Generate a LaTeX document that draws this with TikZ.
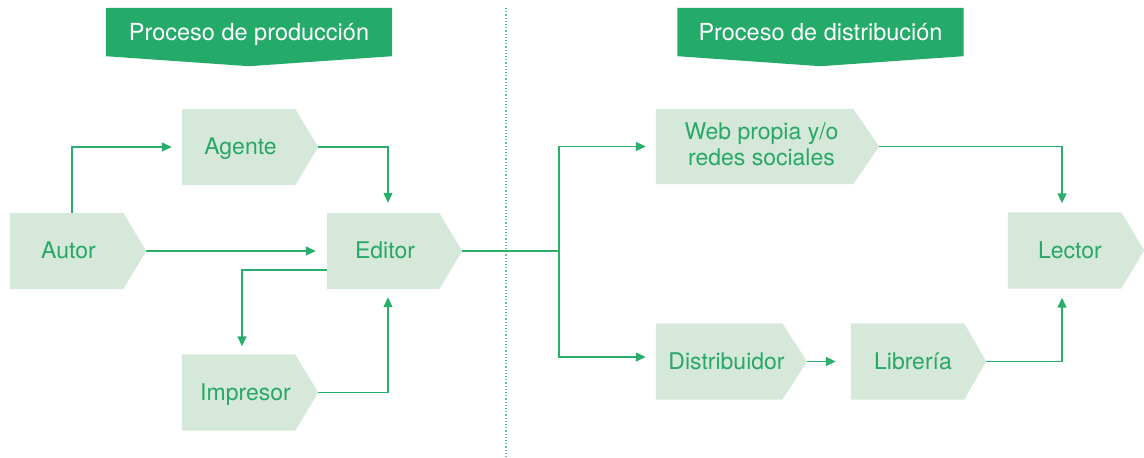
\documentclass[tikz,border=0pt]{standalone}
\usepackage{fontspec}
\setmainfont{TeX Gyre Heros}
\usetikzlibrary{calc,backgrounds,arrows.meta}
\definecolor{bannerc}{HTML}{24AB6A}
\definecolor{boxfill}{HTML}{D5E8D9}
\definecolor{boxtext}{HTML}{27A866}
\definecolor{linec}{HTML}{2AAE6C}
\definecolor{dotc}{HTML}{5EC192}
\tikzset{
  pbox/.style={rectangle, minimum height=76pt, inner sep=0pt, text=boxtext,
    font=\fontsize{23}{26}\selectfont, text height=19.5pt, text depth=4pt},
  banner/.style={rectangle, minimum height=48pt, minimum width=286pt, inner sep=0pt,
    text=white, font=\fontsize{23.5}{27}\selectfont, text height=21.4pt, text depth=4pt},
  wire/.style={draw=linec, line width=1.4pt},
  arr/.style={wire, -{Triangle[length=10pt,width=9pt]}},
  divider/.style={draw=dotc, line width=1.2pt, dash pattern=on 1.2pt off 2pt}
}
\newcommand{\pentfill}[2]{% node name, tip length
  \fill[boxfill] (#1.north west) -- (#1.north east) -- ($(#1.east)+(#2,0)$)
    -- (#1.south east) -- (#1.south west) -- cycle;
  \coordinate (#1-tip) at ($(#1.east)+(#2,0)$);}
\newcommand{\bannerfill}[1]{%
  \fill[bannerc] (#1.north west) -- (#1.north east) -- (#1.south east)
    -- ($(#1.south)+(0,10)$) -- (#1.south west) -- cycle;}
% text shifted right by half of #1, without widening the node
\newcommand{\tsh}[2]{\makebox[0pt]{\hspace*{#1}#2}}
\begin{document}
\begin{tikzpicture}[x=1pt,y=-1pt]
\useasboundingbox (0,0) rectangle (1144,458);

% banners
\node[banner] (bprod) at (249,32) {Proceso de producción};
\node[banner] (bdist) at (820.5,32) {Proceso de distribución};

% boxes
\node[pbox, minimum width=113pt] (autor)    at (66.5,251)   {\tsh{4pt}{Autor}};
\node[pbox, minimum width=113pt] (agente)   at (238.5,147)  {\tsh{4pt}{Agente}};
\node[pbox, minimum width=112pt] (editor)   at (383,251)    {\tsh{4pt}{Editor}};
\node[pbox, minimum width=113pt] (impresor) at (238.5,392.5){\tsh{14pt}{Impresor}};
\node[pbox, minimum width=197pt, minimum height=75pt, text height=6pt, text depth=21pt] (web) at (754.5,146.5)
  {\tsh{14pt}{\begin{tabular}[t]{@{}c@{}}Web propia y/o\\redes sociales\end{tabular}}};
\node[pbox, minimum width=126pt] (distrib)  at (719,361.5)  {\tsh{15pt}{Distribuidor}};
\node[pbox, minimum width=113pt] (libreria) at (907.5,361.5){\tsh{11pt}{Librería}};
\node[pbox, minimum width=113pt] (lector)   at (1064.5,250.5){\tsh{11pt}{Lector}};

\begin{scope}[on background layer]
  \bannerfill{bprod}
  \bannerfill{bdist}
  \pentfill{autor}{23}
  \pentfill{agente}{23}
  \pentfill{editor}{23}
  \pentfill{impresor}{23}
  \pentfill{web}{26}
  \pentfill{distrib}{25}
  \pentfill{libreria}{22}
  \pentfill{lector}{23}
\end{scope}

% divider
\draw[divider] (506,8) -- (506,457);

% production connectors
\draw[arr, shorten >=10pt] ($(autor.north)+(5.5,0)$) |- (agente.west);
\draw[arr, shorten >=11pt] (autor-tip) -- (editor.west);
\draw[arr, shorten >=10pt] (agente-tip) -| ($(editor.north)+(5,0)$);
\draw[arr, shorten >=8pt] ($(editor.west)+(0,19)$) -| ($(impresor.north)+(3.5,0)$);
\draw[arr, shorten >=8pt] (impresor-tip) -| ($(editor.south)+(5,0)$);

% distribution connectors
\coordinate (fork) at (559,251);
\draw[wire] (editor-tip) -- (fork);
\draw[arr, shorten >=10pt] (fork) |- (web.west);
\draw[arr, shorten >=10pt] (fork) |- ($(distrib.west)+(0,-4.5)$);
\draw[arr, shorten >=15pt] (distrib-tip) -- (libreria.west);
\draw[arr, shorten >=9pt] (web-tip) -| ($(lector.north)+(-2.5,0)$);
\draw[arr, shorten >=9pt] (libreria-tip) -| ($(lector.south)+(-2.5,0)$);
\end{tikzpicture}
\end{document}
